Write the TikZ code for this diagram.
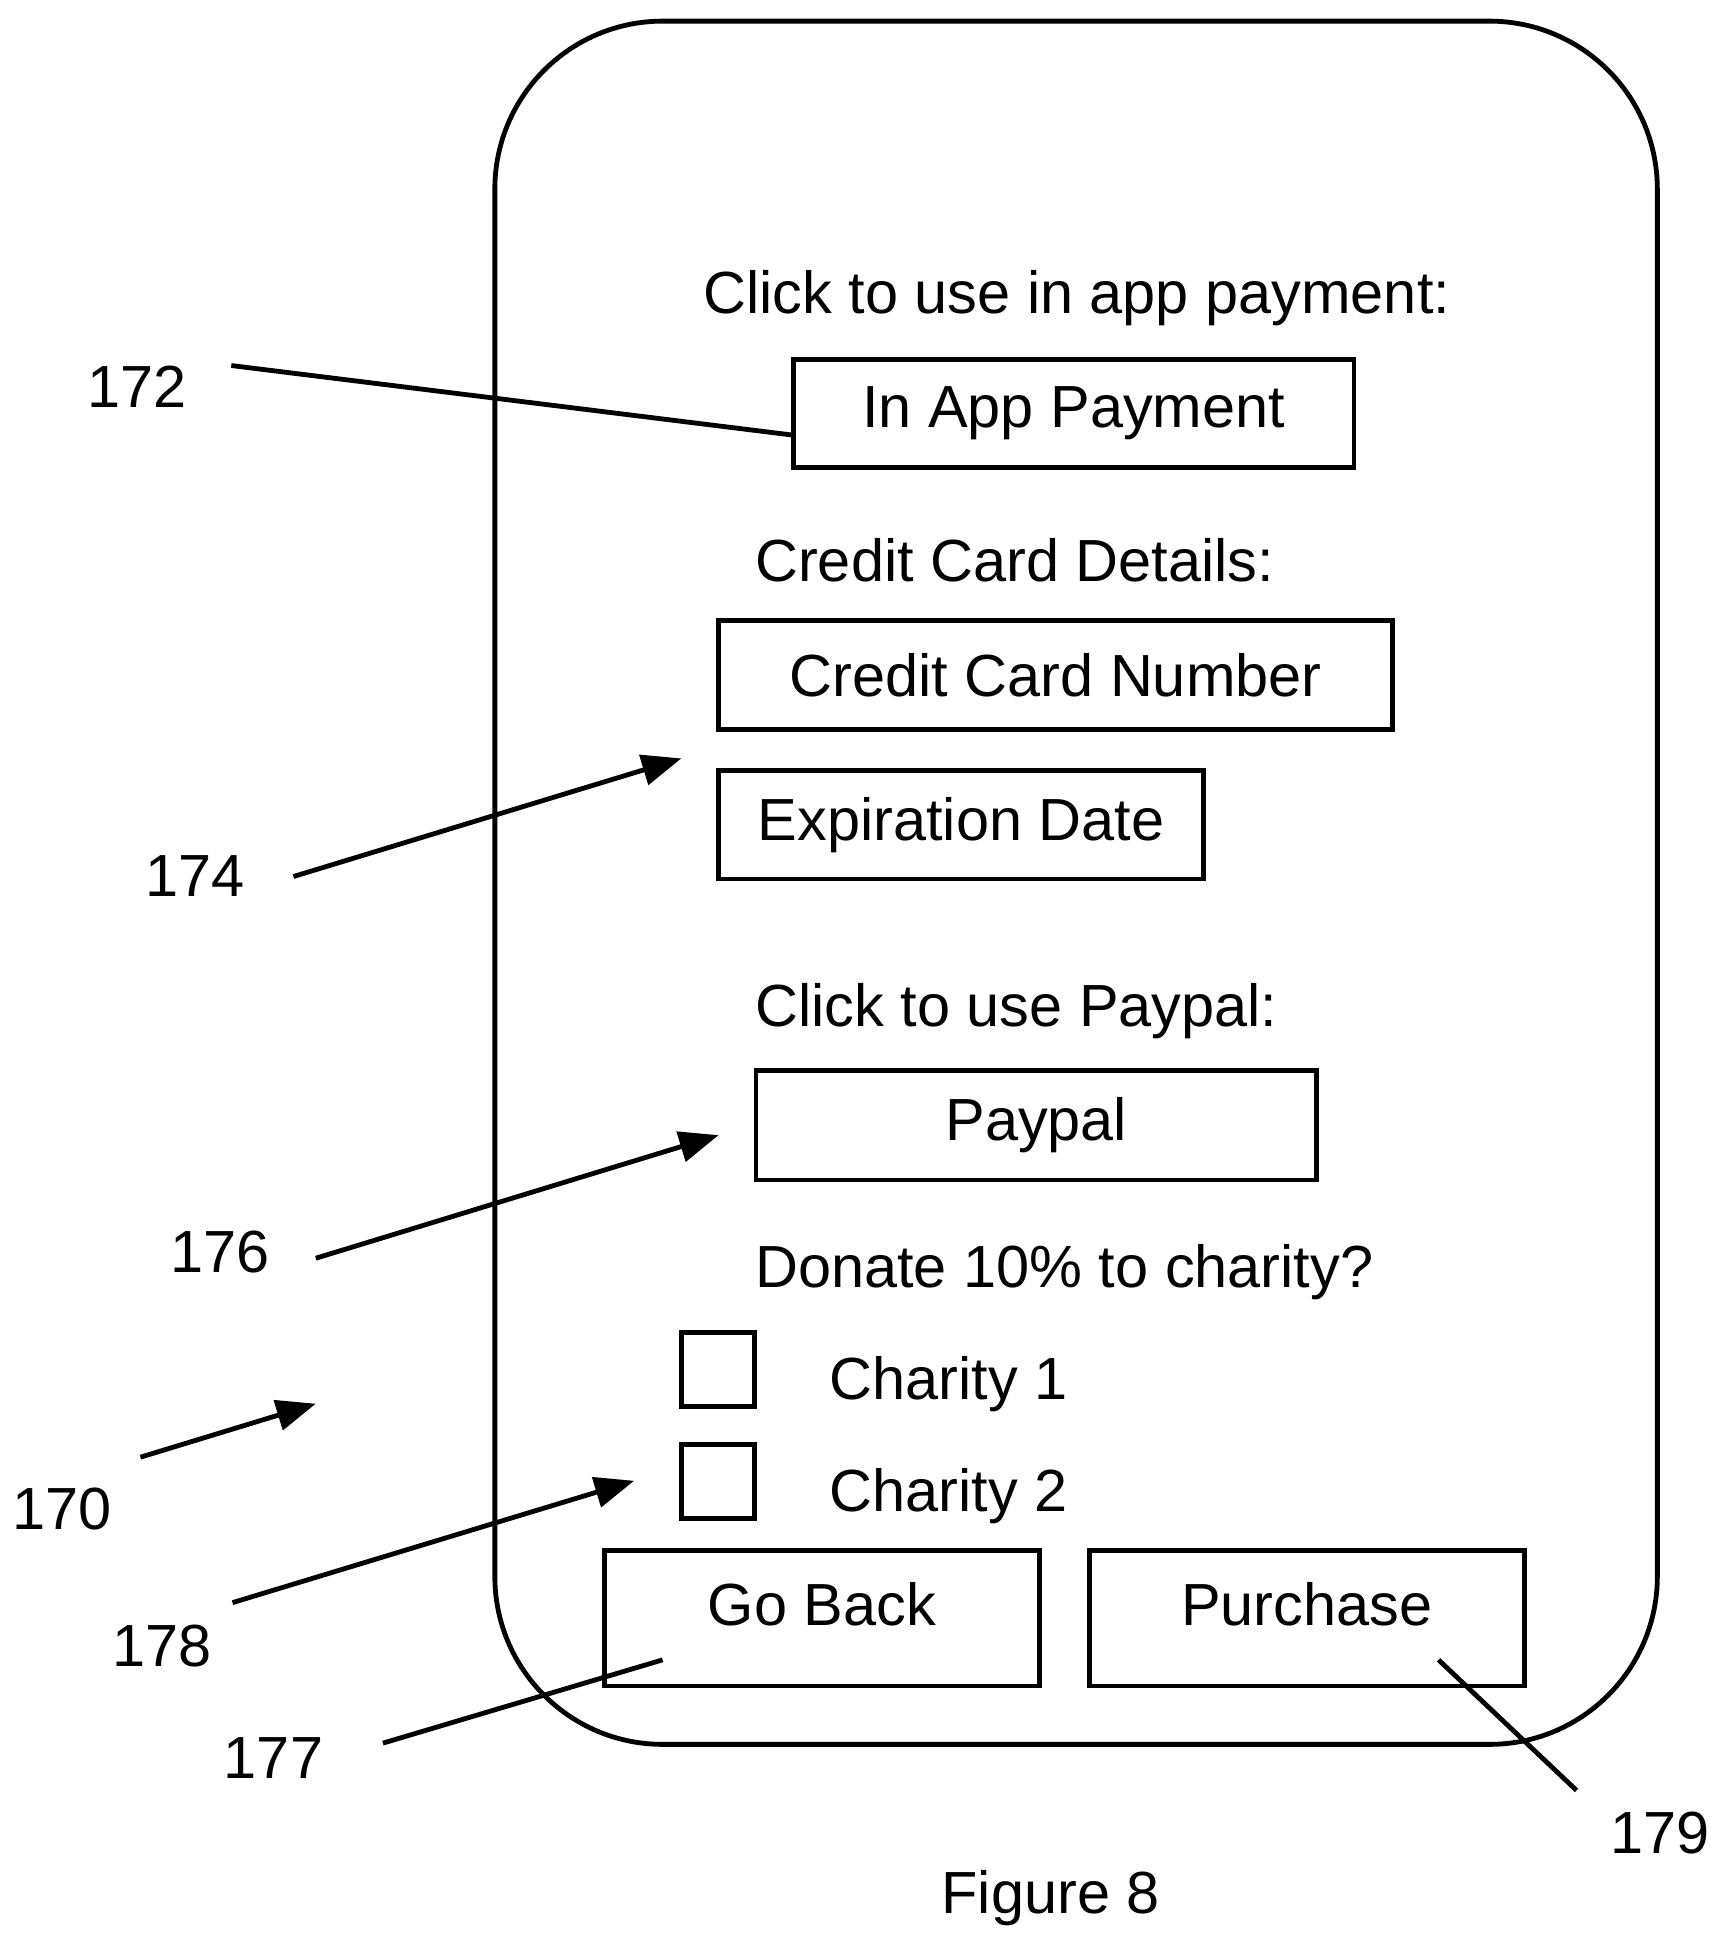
\documentclass[tikz,border=0pt]{standalone}
\usepackage{fontspec}
\setmainfont{Liberation Sans}
\usetikzlibrary{arrows.meta}
\begin{document}
\begin{tikzpicture}[x=0.01cm,y=-0.01cm,line width=1.1pt,
  font=\fontsize{13.6}{16}\selectfont,
  field/.style={draw,rectangle,inner sep=0pt},
  lbl/.style={inner sep=1pt},
  pointer/.style={-{Triangle[length=9pt,width=7pt]}}]
\useasboundingbox (0,0) rectangle (1390,1570);
% phone outline
\draw[rounded corners=1.35cm] (398,17) rectangle (1333,1403);
% texts and fields
\node[lbl] (t1) at (866,240) {Click to use in app payment:};
\draw (638,289) rectangle (1089,376) node[midway] (inapp) {In App Payment};
\coordinate (inappw) at (638,350);
\node[lbl,anchor=west] (t2) at (602,451) {Credit Card Details:};
\draw (578,499) rectangle (1120,587) node[midway] (ccnum) {Credit Card Number};
\draw (578,620) rectangle (968,707) node[midway] (expdate) {Expiration Date};
\node[lbl,anchor=west] (t3) at (602,813) {Click to use Paypal:};
\draw (608,861) rectangle (1059,949) node[midway] (paypal) {Paypal};
\node[lbl,anchor=west] (t4) at (602,1023) {Donate 10\% to charity?};
\draw (548,1072) rectangle (607,1131);
\draw (548,1162) rectangle (607,1221);
\node[lbl,anchor=west] (ch1) at (662,1113) {Charity 1};
\node[lbl,anchor=west] (ch2) at (662,1203) {Charity 2};
\draw (486,1247) rectangle (836,1356);
\node[lbl] (goback) at (661,1290) {Go Back};
\draw (876,1247) rectangle (1226,1356);
\node[lbl] (purchase) at (1051,1290) {Purchase};
% reference numerals
\node[lbl] (n172) at (110,311) {172};
\node[lbl] (n174) at (157,705) {174};
\node[lbl] (n176) at (177,1007) {176};
\node[lbl] (n170) at (50,1214) {170};
\node[lbl] (n178) at (130,1324) {178};
\node[lbl] (n177) at (220,1414) {177};
\node[lbl] (n179) at (1335,1474) {179};
\coordinate (a174) at (548,610);
\coordinate (a176) at (578,913);
\coordinate (a170) at (254,1129);
\coordinate (a178) at (510,1191);
\coordinate (a177) at (533,1335);
\coordinate (a179) at (1157,1335);
\draw (186,294) -- (inappw);
\draw[pointer] (236,705) -- (a174);
\draw[pointer] (254,1012) -- (a176);
\draw[pointer] (113,1172) -- (a170);
\draw[pointer] (187,1289) -- (a178);
\draw (308,1402) -- (a177);
\draw (1268,1440) -- (a179);
\node[lbl] (fig) at (845,1527) {Figure 8};
\end{tikzpicture}
\end{document}
